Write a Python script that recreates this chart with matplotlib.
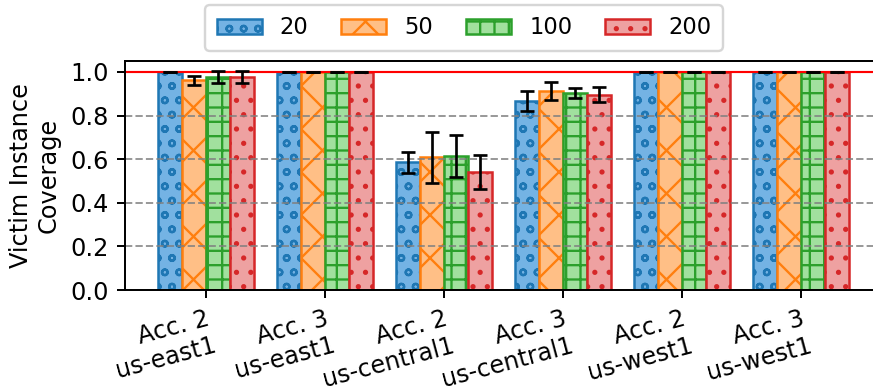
import numpy as np
import matplotlib as mpl
import matplotlib.pyplot as plt

mpl.rcParams.update(mpl.rcParamsDefault)

# small physical figure rendered at high dpi
DPI = 258
plt.rcParams['font.size'] = 6.7
plt.rcParams['axes.linewidth'] = 0.55
plt.rcParams['axes.labelpad'] = 2.7
plt.rcParams['xtick.major.size'] = 2.3
plt.rcParams['xtick.major.width'] = 0.55
plt.rcParams['xtick.major.pad'] = 2.3
plt.rcParams['ytick.major.size'] = 2.3
plt.rcParams['ytick.major.width'] = 0.55
plt.rcParams['ytick.major.pad'] = 2.3
plt.rcParams['grid.linewidth'] = 0.55
plt.rcParams['patch.linewidth'] = 0.67
plt.rcParams['hatch.linewidth'] = 0.65

GROUPS = [
    'Acc. 2\nus-east1',
    'Acc. 3\nus-east1',
    'Acc. 2\nus-central1',
    'Acc. 3\nus-central1',
    'Acc. 2\nus-west1',
    'Acc. 3\nus-west1',
]

SIZES = ['20', '50', '100', '200']

# mean coverage per group, one list per size
COV_20 = [1.0, 1.0, 0.586, 0.867, 1.0, 1.0]
COV_50 = [0.962, 1.0, 0.608, 0.913, 1.0, 1.0]
COV_100 = [0.978, 1.0, 0.613, 0.903, 1.0, 1.0]
COV_200 = [0.978, 1.0, 0.541, 0.896, 1.0, 1.0]

ERR_20 = [0.0, 0.0, 0.048, 0.047, 0.0, 0.0]
ERR_50 = [0.021, 0.0, 0.118, 0.040, 0.0, 0.0]
ERR_100 = [0.027, 0.0, 0.096, 0.023, 0.0, 0.0]
ERR_200 = [0.027, 0.0, 0.080, 0.033, 0.0, 0.0]

STYLES = [
    {'face': '#74b3e4', 'edge': '#1f77b4', 'hatch': 'ooo'},
    {'face': '#ffbf86', 'edge': '#ff7f0e', 'hatch': 'xx'},
    {'face': '#a1e09e', 'edge': '#2ca02c', 'hatch': '+++'},
    {'face': '#eea1a1', 'edge': '#d62728', 'hatch': '...'},
]


def plot_coverage():
    means = [COV_20, COV_50, COV_100, COV_200]
    errs = [ERR_20, ERR_50, ERR_100, ERR_200]

    fig = plt.figure(figsize=(873 / DPI, 386 / DPI), dpi=DPI)
    ax = fig.add_axes([0.1432, 0.2487, 0.867, 0.5933])

    x = np.arange(len(GROUPS))
    width = 0.2
    for i, (size, style) in enumerate(zip(SIZES, STYLES)):
        offset = (i - 1.5) * width
        ax.bar(
            x + offset,
            means[i],
            width,
            yerr=errs[i],
            label=size,
            color=style['face'],
            edgecolor=style['edge'],
            hatch=style['hatch'],
            linewidth=0.7,
            capsize=2,
            error_kw={'elinewidth': 0.75, 'capthick': 0.75, 'ecolor': 'black', 'zorder': 3},
        )

    ax.axhline(1.0, color='red', linewidth=0.6, zorder=2)

    ax.set_ylim(0, 1.05)
    ax.set_xlim(-0.68, 5.68)
    ax.set_yticks([0.0, 0.2, 0.4, 0.6, 0.8, 1.0])
    ax.set_ylabel('Victim Instance\nCoverage')
    ax.yaxis.grid(True, linestyle='--', color='gray', alpha=0.8)

    ax.set_xticks(x)
    ax.set_xticklabels(GROUPS, rotation=15, ha='right', rotation_mode='anchor')

    fig.legend(
        loc='upper center',
        bbox_to_anchor=(0.5315, 0.987),
        borderaxespad=0,
        borderpad=0.5,
        ncol=len(SIZES),
        frameon=True,
        fontsize=6.3,
        columnspacing=1.45,
    )

    fig.savefig('out.png', dpi=DPI)


if __name__ == '__main__':
    plot_coverage()
